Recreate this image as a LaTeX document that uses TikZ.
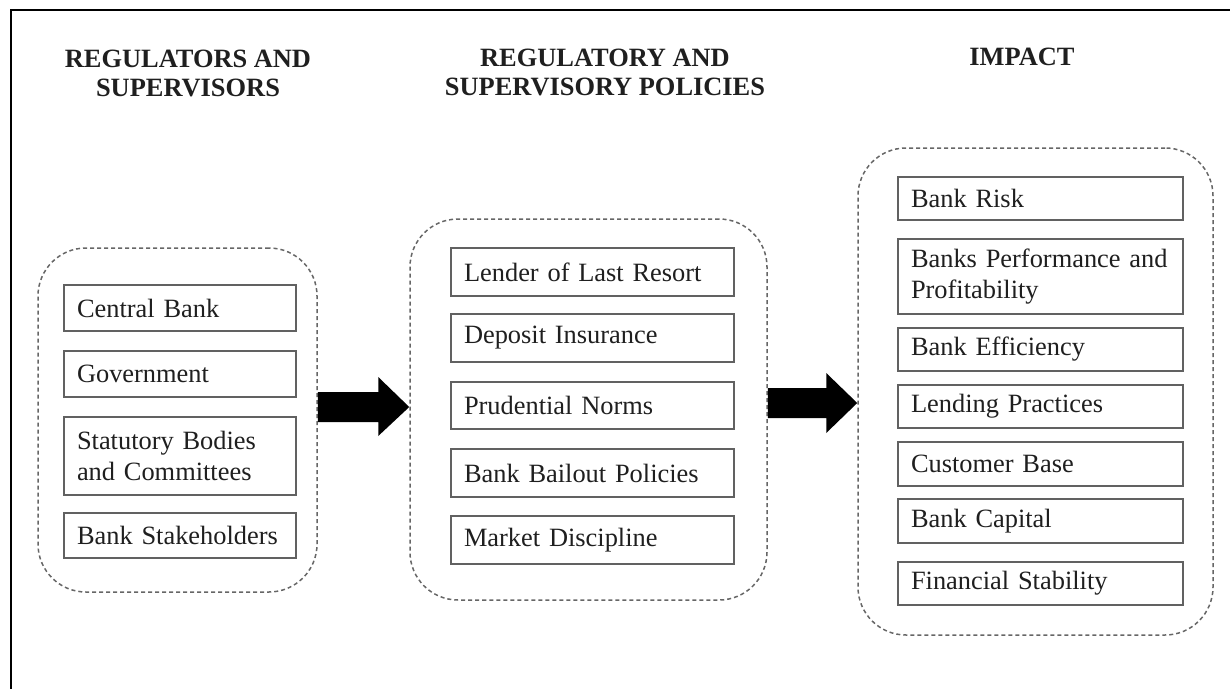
\documentclass[tikz,border=0pt]{standalone}
\usepackage{fontspec}
\setmainfont{Liberation Serif}
\usetikzlibrary{calc}
\tikzset{
  x=1pt, y=-1pt,
  txtc/.style={text=black!88},
  hdr/.style={font=\fontsize{26.4}{29}\selectfont\bfseries, align=center, inner sep=0pt, txtc},
  container/.style={draw=black!60, line width=1.5pt, dash pattern=on 4pt off 3pt, rounded corners=48pt, inner sep=0pt},
  itembox/.style={draw=black!62, line width=2pt, fill=white, inner sep=0pt, inner xsep=13pt,
     font=\fontsize{26.4}{30.5}\selectfont, align=left, anchor=north west, txtc},
  blockarrow/.style={fill=black, draw=none},
}
\newcommand{\itemnode}[6]{% name, x1, y1, x2, y2, text
  \node[itembox, minimum width={(#4-#2)*1pt}, minimum height={(#5-#3)*1pt}, text width=\dimexpr #4pt-#2pt-26pt\relax] (#1) at (#2,#3) {#6};
}
\begin{document}
\begin{tikzpicture}
\useasboundingbox (0,0) rectangle (1230,688);
% frame (only top and left visible)
\coordinate (fbl) at (11,689);
\coordinate (ftl) at (11,10);
\coordinate (ftr) at (1231,10);
\draw[line width=2.5pt, black] (fbl) -- (ftl) -- (ftr);

% headers
\node[hdr] (h1) at (188,73.5) {REGULATORS AND\\SUPERVISORS};
\node[hdr] (h2) at (605,72.5) {REGULATORY AND\\SUPERVISORY POLICIES};
\node[hdr] (h3) at (1022,56.5) {IMPACT};

% containers
\node[container, minimum width=279pt, minimum height=344pt] (c1) at (177.5,420) {};
\node[container, minimum width=357pt, minimum height=381pt] (c2) at (588.5,409.5) {};
\node[container, minimum width=355pt, minimum height=487pt] (c3) at (1035.5,391.5) {};

% left items
\itemnode{l1}{63}{284}{295}{330}{Central Bank}
\itemnode{l2}{63}{350}{295}{396}{Government}
\itemnode{l3}{63}{416}{295}{494}{Statutory Bodies\\and Committees}
\itemnode{l4}{63}{512}{295}{557}{Bank Stakeholders}

% middle items
\itemnode{m1}{450}{247}{733}{295}{Lender of Last Resort}
\itemnode{m2}{450}{313}{733}{361}{Deposit Insurance}
\itemnode{m3}{450}{381}{733}{428}{Prudential Norms}
\itemnode{m4}{450}{448}{733}{496}{Bank Bailout Policies}
\itemnode{m5}{450}{515}{733}{563}{Market Discipline}

% right items
\itemnode{r1}{897}{176}{1182}{219}{Bank Risk}
\itemnode{r2}{897}{238}{1182}{313}{Banks Performance and\\Profitability}
\itemnode{r3}{897}{327}{1182}{370}{Bank Efficiency}
\itemnode{r4}{897}{384}{1182}{427}{Lending Practices}
\itemnode{r5}{897}{441}{1182}{485}{Customer Base}
\itemnode{r6}{897}{498}{1182}{542}{Bank Capital}
\itemnode{r7}{897}{561}{1182}{604}{Financial Stability}

% block arrows
\coordinate (a1s) at (c1.east |- 0,407);
\coordinate (a1t) at (c2.west |- 0,407);
\fill[blockarrow] ($(a1s)+(0,-15)$) -- ($(a1t)+(-31,-15)$) -- ($(a1t)+(-31,-30)$) -- (a1t)
   -- ($(a1t)+(-31,29)$) -- ($(a1t)+(-31,15)$) -- ($(a1s)+(0,15)$) -- cycle;
\coordinate (a2s) at (c2.east |- 0,403);
\coordinate (a2t) at (c3.west |- 0,403);
\fill[blockarrow] ($(a2s)+(0,-15)$) -- ($(a2t)+(-31,-15)$) -- ($(a2t)+(-31,-30)$) -- (a2t)
   -- ($(a2t)+(-31,30)$) -- ($(a2t)+(-31,15)$) -- ($(a2s)+(0,15)$) -- cycle;
\end{tikzpicture}
\end{document}
